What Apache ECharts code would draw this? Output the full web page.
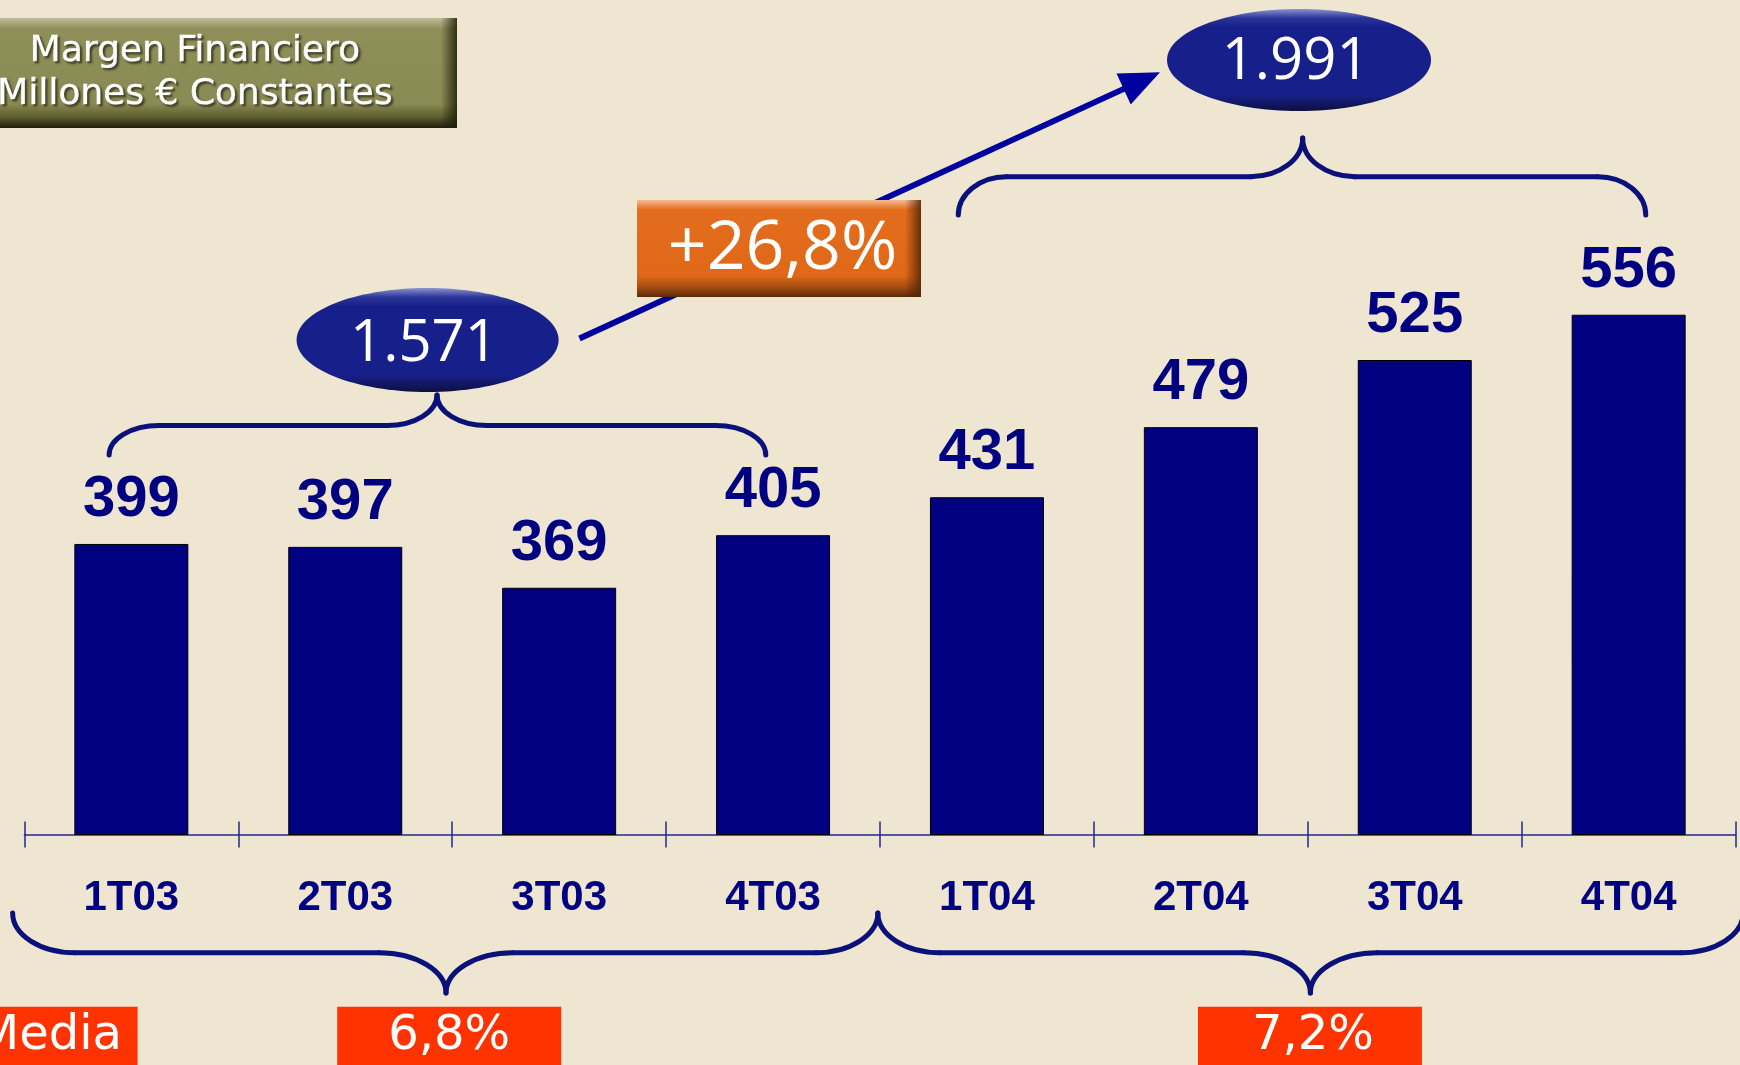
<!DOCTYPE html>
<html><head><meta charset="utf-8">
<script src="https://cdn.jsdelivr.net/npm/echarts@6/dist/echarts.min.js"></script>
<style>html,body{margin:0;padding:0;background:#EFE6D1;} #c{width:1740px;height:1065px;}</style>
</head><body><div id="c"></div>
<script>
// ---- data ----
const categories = ['1T03','2T03','3T03','4T03','1T04','2T04','3T04','4T04'];
const values = [399, 397, 369, 405, 431, 479, 525, 556];
const yearTotals = ['1.571', '1.991'];
const growthLabel = '+26,8%';
const meanTitle = 'Media';
const meanValues = ['6,8%', '7,2%'];
const titleLines = ['Margen Financiero', 'Millones € Constantes'];

const NAVY = '#000080';
const BRACE = '#0a1279';
const AXIS = '#23278c';
const chart = echarts.init(document.getElementById('c'), null, {renderer: 'canvas'});

chart.setOption({
  backgroundColor: '#EFE6D1',
  animation: false,
  grid: {left: 24.4, right: 4.4, top: 31.5, bottom: 230.5},
  xAxis: [{
    type: 'category', data: categories, position: 'bottom',
    axisLine: {show: true, lineStyle: {color: AXIS, width: 1.5}},
    axisTick: {show: true, inside: false, length: 13, interval: 0, lineStyle: {color: AXIS, width: 1.5}},
    axisLabel: {interval: 0, margin: 42.5, fontSize: 42, fontWeight: 'bold',
      fontFamily: '"Liberation Sans", Arial, sans-serif', color: NAVY, lineHeight: 42}
  }, {
    type: 'category', data: categories, position: 'bottom', offset: 0,
    axisLine: {show: false},
    axisTick: {show: true, inside: true, length: 13, interval: 0, lineStyle: {color: AXIS, width: 1.5}},
    axisLabel: {show: false}
  }],
  yAxis: {type: 'value', min: 200, max: 750, show: false},
  series: [{
    type: 'bar', data: values, barWidth: 114,
    itemStyle: {color: NAVY, borderColor: '#000', borderWidth: 1},
    label: {show: true, position: 'top', distance: 15, fontSize: 58, fontWeight: 'bold',
      fontFamily: '"Liberation Sans", Arial, sans-serif', color: NAVY, lineHeight: 58}
  }]
});

// ---- annotations positioned from the category scale ----
const c0 = chart.convertToPixel({xAxisIndex: 0}, 0);
const c1 = chart.convertToPixel({xAxisIndex: 0}, 1);
const band = c1 - c0;
const xAt = u => c0 + u * band;

const braceStyle = {stroke: BRACE, lineWidth: 5, fill: null, lineCap: 'round'};
function bez(x1, y1, cpx1, cpy1, cpx2, cpy2, x2, y2) {
  return {type: 'bezierCurve', z: 10, silent: true,
    shape: {x1, y1, cpx1, cpy1, cpx2, cpy2, x2, y2}, style: Object.assign({}, braceStyle)};
}
function seg(x1, y1, x2, y2) {
  return {type: 'line', z: 10, silent: true, shape: {x1, y1, x2, y2}, style: Object.assign({}, braceStyle)};
}
function brace(uL, uR, uT, yE, yL, yT, r1, r2) {
  const k = 0.552, xL = xAt(uL), xR = xAt(uR), xT = xAt(uT);
  return [
    bez(xL, yE, xL, yE + k * (yL - yE), xL + r1 - k * r1, yL, xL + r1, yL),
    seg(xL + r1, yL, xT - r2, yL),
    bez(xT - r2, yL, xT - r2 + k * r2, yL, xT, yT + k * (yL - yT), xT, yT),
    bez(xT, yT, xT, yT + k * (yL - yT), xT + r2 - k * r2, yL, xT + r2, yL),
    seg(xT + r2, yL, xR - r1, yL),
    bez(xR - r1, yL, xR - r1 + k * r1, yL, xR, yE + k * (yL - yE), xR, yE)
  ];
}
function vgrad(stops) {
  return new echarts.graphic.LinearGradient(0, 0, 0, 1, stops.map(s => ({offset: s[0], color: s[1]})));
}
function hgrad(stops) {
  return new echarts.graphic.LinearGradient(0, 0, 1, 0, stops.map(s => ({offset: s[0], color: s[1]})));
}
function txt(text, x, y, font, more) {
  return {type: 'text', z: 30, silent: true,
    style: Object.assign({text, x, y, fill: '#fff', font, align: 'center', verticalAlign: 'middle'}, more || {})};
}
const ellipseFill = () => vgrad([[0, '#8c94d0'], [0.09, '#2a3396'], [0.18, '#17208a'], [0.84, '#17208a'], [1, '#0c1040']]);
const titleShadow = {textShadowColor: 'rgba(40,40,20,0.75)', textShadowOffsetX: 2, textShadowOffsetY: 2, textShadowBlur: 2,
  stroke: '#fff', lineWidth: 0.6};

// arrow
const aS = [xAt(2.095), 338.5], aT = [xAt(4.809), 72.3];
const dx = aT[0] - aS[0], dy = aT[1] - aS[1], len = Math.hypot(dx, dy);
const ux = dx / len, uy = dy / len, headL = 40, headW = 17;
const hb = [aT[0] - headL * ux, aT[1] - headL * uy];

const gx = xAt(2.364);
const graphics = [].concat(
  brace(-0.104, 2.966, 1.429, 455, 425.5, 395, 50, 50),
  brace(3.866, 7.08, 5.476, 215, 176.7, 138, 48, 52),
  brace(-0.555, 3.49, 1.471, 913, 952.7, 993, 62, 67),
  brace(3.49, 7.535, 5.512, 913, 952.7, 993, 62, 67),
  [
    {type: 'line', z: 12, silent: true, shape: {x1: aS[0], y1: aS[1], x2: hb[0] + 2 * ux, y2: hb[1] + 2 * uy},
      style: {stroke: '#0000a0', lineWidth: 6}},
    {type: 'polygon', z: 12, silent: true,
      shape: {points: [aT, [hb[0] - headW * uy, hb[1] + headW * ux], [hb[0] + headW * uy, hb[1] - headW * ux]]},
      style: {fill: '#0000a0'}},
    // title box
    {type: 'rect', z: 20, silent: true, shape: {x: -20, y: 18, width: 477, height: 110},
      style: {fill: vgrad([[0, '#c0bc98'], [0.1, '#8f8f5a'], [0.78, '#8a8a54'], [0.9, '#5e5e30'], [1, '#1e1e0a']])}},
    {type: 'rect', z: 21, silent: true, shape: {x: 441, y: 18, width: 16, height: 110},
      style: {fill: hgrad([[0, 'rgba(30,30,10,0)'], [1, 'rgba(30,30,10,0.85)']])}},
    txt(titleLines[0], 195, 51.5, '36px "DejaVu Sans", Verdana, sans-serif', titleShadow),
    txt(titleLines[1], 195, 94.5, '36px "DejaVu Sans", Verdana, sans-serif', titleShadow),
    // ellipses
    {type: 'ellipse', z: 20, silent: true, shape: {cx: xAt(1.385), cy: 340, rx: 131, ry: 52}, style: {fill: ellipseFill()}},
    txt(yearTotals[0], xAt(1.368), 344, '58px "Open Sans", sans-serif'),
    {type: 'ellipse', z: 20, silent: true, shape: {cx: xAt(5.459), cy: 60, rx: 132, ry: 51}, style: {fill: ellipseFill()}},
    txt(yearTotals[1], xAt(5.443), 62.5, '58px "Open Sans", sans-serif'),
    // growth box
    {type: 'rect', z: 20, silent: true, shape: {x: gx, y: 200, width: 284, height: 97},
      style: {fill: vgrad([[0, '#f7bb92'], [0.1, '#e36d1e'], [0.78, '#e06818'], [0.9, '#a44c12'], [1, '#5a2a08']])}},
    {type: 'rect', z: 21, silent: true, shape: {x: gx + 268, y: 200, width: 16, height: 97},
      style: {fill: hgrad([[0, 'rgba(80,35,5,0)'], [1, 'rgba(80,35,5,0.85)']])}},
    txt(growthLabel, xAt(3.044), 250, '68px "Open Sans", sans-serif'),
    // mean boxes
    {type: 'rect', z: 20, silent: true, shape: {x: -10, y: 1006.7, width: 147.6, height: 70}, style: {fill: '#FF3300'}},
    txt(meanTitle, 122, 1036.5, '48px "DejaVu Sans", Verdana, sans-serif', {align: 'right'}),
    {type: 'rect', z: 20, silent: true, shape: {x: xAt(1.486) - 112, y: 1006.7, width: 224, height: 70}, style: {fill: '#FF3300'}},
    txt(meanValues[0], xAt(1.486), 1036.5, '48px "DejaVu Sans", Verdana, sans-serif'),
    {type: 'rect', z: 20, silent: true, shape: {x: xAt(5.51) - 112, y: 1006.7, width: 224, height: 70}, style: {fill: '#FF3300'}},
    txt(meanValues[1], xAt(5.524), 1036.5, '48px "DejaVu Sans", Verdana, sans-serif')
  ]
);
chart.setOption({graphic: {elements: graphics}});
</script></body></html>
